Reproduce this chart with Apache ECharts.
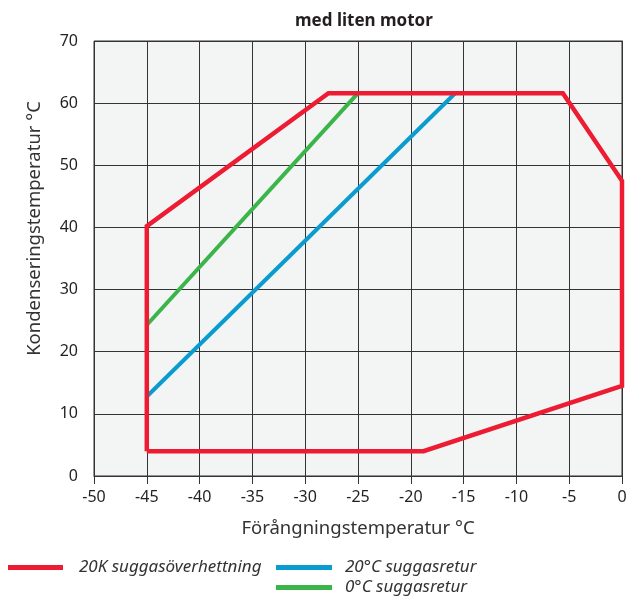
<!DOCTYPE html>
<html><head><meta charset="utf-8">
<script src="https://cdn.jsdelivr.net/npm/echarts@6/dist/echarts.min.js"></script>
<style>html,body{margin:0;padding:0;background:#fff}#c{width:630px;height:596px}</style>
</head><body><div id="c"></div>
<script>
const title = 'med liten motor';
const xName = 'Förångningstemperatur °C';
const yName = 'Kondenseringstemperatur °C';
const seriesNames = ['20K suggasöverhettning', '20°C suggasretur', '0°C suggasretur'];
const envelope = [[-45, 4], [-45, 40.2], [-27.8, 61.6], [-5.6, 61.6], [0, 47.5], [0, 14.5], [-18.8, 4], [-45, 4]];
const ret20 = [[-45, 12.8], [-15.8, 61.6]];
const ret0 = [[-45, 24.3], [-25, 61.6]];
const colors = ['#ed1c33', '#0b9ccf', '#3bb54a'];

const chart = echarts.init(document.getElementById('c'));
const font = '"Noto Sans", sans-serif';
const legText = {fontSize: 17, fontStyle: 'italic', color: '#333', fontFamily: font};
chart.setOption({
  animation: false,
  textStyle: {fontFamily: font},
  title: {text: title, left: 290, top: 8,
    textStyle: {fontSize: 17, fontWeight: 'bold', color: '#231f20', fontFamily: font}},
  grid: {left: 94, right: 8, top: 41, bottom: 120, show: true, backgroundColor: '#f3f4f4', borderColor: '#333', borderWidth: 1},
  legend: [
    {data: [seriesNames[0]], left: 8, top: 559, itemWidth: 55, itemHeight: 5, icon: 'rect',
      textStyle: Object.assign({padding: [0, 0, 0, 11]}, legText), padding: 0},
    {data: [seriesNames[1]], left: 276, top: 559, itemWidth: 56, itemHeight: 5, icon: 'rect',
      textStyle: Object.assign({padding: [0, 0, 0, 8]}, legText), padding: 0},
    {data: [seriesNames[2]], left: 276, top: 579, itemWidth: 56, itemHeight: 5, icon: 'rect',
      textStyle: Object.assign({padding: [0, 0, 0, 8]}, legText), padding: 0}
  ],
  xAxis: {type: 'value', min: -50, max: 0, interval: 5,
    name: xName, nameLocation: 'middle', nameGap: 43,
    nameTextStyle: {fontSize: 18.5, color: '#333', fontFamily: font},
    axisLine: {show: true, lineStyle: {color: '#333', width: 1}},
    axisTick: {show: true, length: 8, lineStyle: {color: '#333'}},
    axisLabel: {fontSize: 16, color: '#231f20', margin: 13},
    splitLine: {show: true, lineStyle: {color: '#333', width: 1}}},
  yAxis: {type: 'value', min: 0, max: 70, interval: 10,
    name: yName, nameLocation: 'middle', nameGap: 50,
    nameTextStyle: {fontSize: 18.5, color: '#333', fontFamily: font, padding: [0, 0, 0, 60]},
    axisLine: {show: true, lineStyle: {color: '#333', width: 1}},
    axisTick: {show: true, length: 9, lineStyle: {color: '#333'}},
    axisLabel: {fontSize: 16, color: '#231f20', margin: 16},
    splitLine: {show: true, lineStyle: {color: '#333', width: 1}}},
  series: [
    {name: seriesNames[0], type: 'line', data: envelope, symbol: 'none', lineStyle: {width: 4.5, color: colors[0], join: 'miter'}, itemStyle: {color: colors[0]}, z: 4},
    {name: seriesNames[1], type: 'line', data: ret20, symbol: 'none', lineStyle: {width: 4, color: colors[1]}, itemStyle: {color: colors[1]}, z: 3},
    {name: seriesNames[2], type: 'line', data: ret0, symbol: 'none', lineStyle: {width: 4, color: colors[2]}, itemStyle: {color: colors[2]}, z: 3}
  ]
});
</script></body></html>
